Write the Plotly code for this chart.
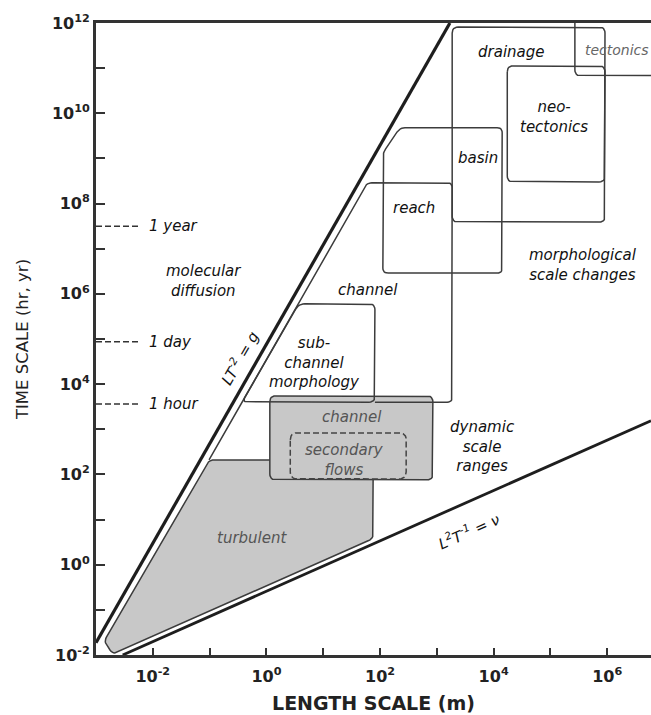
import numpy as np
import plotly.graph_objects as go

# ---------------- data (log10 exponents: length in m, time in s) ----------------
# physical limit lines
grav_L = [-3.0, 3.23]          # LT^-2 = g
grav_T = [-1.73, 12.0]
visc_L = [-2.53, 6.77]         # L^2 T^-1 = nu
visc_T = [-2.0, 3.19]

# process regions (polygon vertices)
turb_L = [1.88, 1.88, -2.70, -2.86, -1.01]
turb_T = [2.32, 0.58, -1.985, -1.70, 2.32]
dyn_L = [0.06, 2.93, 2.93, 0.06]            # channel (dynamic)
dyn_T = [3.74, 3.74, 1.88, 1.88]
sec_L = [0.42, 2.46, 2.46, 0.42]            # secondary flows
sec_T = [2.92, 2.92, 1.90, 1.90]
sub_L = [0.57, 1.91, 1.91, -0.43]           # sub-channel morphology
sub_T = [5.78, 5.78, 3.60, 3.60]
chan_L = [-1.01, 1.77, 3.27, 3.27, 1.91]    # channel (morphological, open outline)
chan_T = [2.32, 8.46, 8.46, 3.60, 3.60]
basin_L = [2.05, 2.05, 2.35, 4.15, 4.15]
basin_T = [6.46, 9.12, 9.68, 9.68, 6.46]
drain_L = [3.27, 5.96, 5.96, 3.27]
drain_T = [11.91, 11.91, 7.59, 7.59]
neo_L = [4.24, 5.96, 5.96, 4.24]
neo_T = [11.05, 11.05, 8.48, 8.48]
tect_L = [5.43, 7.50, 7.50, 5.43]
tect_T = [12.30, 12.30, 10.83, 10.83]

# reference time marks
mark_L = [-3.0, -2.22]
mark_T = {"1 year": 7.50, "1 day": 4.94, "1 hour": 3.56}

x_ticks = list(range(-2, 7))
y_ticks = list(range(-2, 13))

# ---------------- helpers ----------------
SX, SY = 56.8, 45.14  # px per decade, used only for corner rounding


def rounded(lx, ly, r=5, closed=True, n=7):
    P = np.column_stack([np.array(lx, float) * SX, np.array(ly, float) * SY])
    m = len(P)
    out = []
    for i in range(m):
        if not closed and (i == 0 or i == m - 1):
            out.append(P[i])
            continue
        v = P[i]
        d1 = P[i - 1] - v
        d2 = P[(i + 1) % m] - v
        l1, l2 = np.hypot(*d1), np.hypot(*d2)
        rr = min(r, l1 / 2, l2 / 2)
        a = v + d1 / l1 * rr
        b = v + d2 / l2 * rr
        for t in np.linspace(0, 1, n):
            out.append((1 - t) ** 2 * a + 2 * (1 - t) * t * v + t ** 2 * b)
    if closed:
        out.append(out[0])
    out = np.array(out)
    return 10 ** (out[:, 0] / SX), 10 ** (out[:, 1] / SY)


fig = go.Figure()


def region(L, T, fill=None, dash="solid", width=1.5, color="#3c3c3c", closed=True, r=5):
    x, y = rounded(L, T, r, closed)
    fig.add_trace(go.Scatter(
        x=x, y=y, mode="lines",
        line=dict(color=color, width=width, dash=dash),
        fill="toself" if fill else "none", fillcolor=fill,
        hoverinfo="skip", showlegend=False))


GREY = "#c8c8c8"
region(turb_L, turb_T, fill=GREY, r=5)
region(dyn_L, dyn_T, fill=GREY, r=6)
region(sub_L, sub_T, r=6)
region(chan_L, chan_T, closed=False, r=5)
region(basin_L, basin_T, r=5)
region(drain_L, drain_T, r=6)
region(neo_L, neo_T, r=6)
region(tect_L, tect_T, r=6)
region(sec_L, sec_T, dash="6px,3px", r=7, color="#444444")

# limit lines
fig.add_trace(go.Scatter(x=[10 ** v for v in grav_L], y=[10 ** v for v in grav_T], mode="lines",
                         line=dict(color="#1e1e1e", width=3.2), hoverinfo="skip", showlegend=False))
fig.add_trace(go.Scatter(x=[10 ** v for v in visc_L], y=[10 ** v for v in visc_T], mode="lines",
                         line=dict(color="#1e1e1e", width=2.8), hoverinfo="skip", showlegend=False))

# time marks
for name, tv in mark_T.items():
    fig.add_trace(go.Scatter(x=[10 ** v for v in mark_L], y=[10 ** tv] * 2, mode="lines",
                             line=dict(color="#333333", width=1.5, dash="6px,3px"),
                             hoverinfo="skip", showlegend=False))

FONT = "DejaVu Sans"
ann = []


def label(x, y, text, color="#111111", size=15, angle=0, xanchor="center"):
    ann.append(dict(x=x, y=y, xref="x", yref="y", text="<i>" + text + "</i>", showarrow=False,
                    textangle=angle, xanchor=xanchor, yanchor="middle",
                    font=dict(family=FONT, size=size, color=color)))


label(-1.10, 6.285, "molecular<br>diffusion")
label(-0.48, 4.58, "LT<sup>-2</sup> = g", angle=-60)
label(3.55, 0.75, "L<sup>2</sup>T<sup>-1</sup> = ν", angle=-24)
label(-0.25, 0.59, "turbulent", color="#555555")
label(1.51, 3.27, "channel", color="#555555")
label(1.38, 2.32, "secondary<br>flows", color="#555555")
label(0.84, 4.47, "sub-<br>channel<br>morphology")
label(1.79, 6.09, "channel")
label(2.60, 7.90, "reach")
label(3.72, 9.01, "basin")
label(4.31, 11.36, "drainage")
label(5.06, 9.92, "neo-<br>tectonics")
label(5.57, 11.40, "tectonics", color="#666666", size=14, xanchor="left")
label(5.57, 6.64, "morphological<br>scale changes")
label(3.81, 2.61, "dynamic<br>scale<br>ranges")
for name, tv in mark_T.items():
    label(-2.10, tv, name, xanchor="left")

fig.update_layout(
    width=651, height=715,
    margin=dict(l=96, r=0, t=23, b=60),
    paper_bgcolor="white", plot_bgcolor="white",
    showlegend=False, annotations=ann,
    font=dict(family=FONT, color="#222222"),
    xaxis=dict(type="log", range=[-3, 6.77],
               tickvals=[10 ** k for k in x_ticks],
               ticktext=[("<b>10<sup>%d</sup></b>" % k) if k % 2 == 0 else "" for k in x_ticks],
               tickfont=dict(family=FONT, size=16, color="#222222"),
               ticks="inside", ticklen=7, tickwidth=2, tickcolor="#333333",
               ticklabelstandoff=5,
               showline=True, linewidth=3, linecolor="#333333", mirror=True,
               showgrid=False, zeroline=False,
               title=dict(text="<b>LENGTH SCALE (m)</b>",
                          font=dict(family=FONT, size=19, color="#222222"), standoff=12)),
    yaxis=dict(type="log", range=[-2, 12],
               tickvals=[10 ** k for k in y_ticks],
               ticktext=[("<b>10<sup>%d</sup></b>" % k) if k % 2 == 0 else "" for k in y_ticks],
               tickfont=dict(family=FONT, size=16, color="#222222"),
               ticks="inside", ticklen=9, tickwidth=2, tickcolor="#333333",
               showline=True, linewidth=3, linecolor="#333333", mirror=False,
               showgrid=False, zeroline=False,
               title=dict(text="TIME SCALE (hr, yr)",
                          font=dict(family=FONT, size=16.5, color="#222222"), standoff=20)),
)

fig.write_html("out.html")
